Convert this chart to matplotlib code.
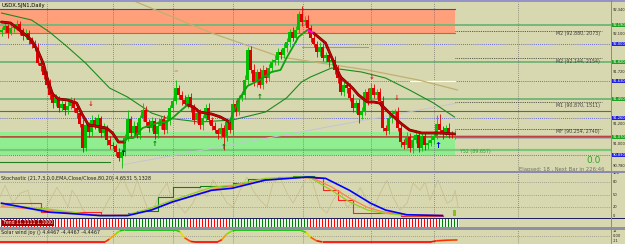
import matplotlib
matplotlib.use("Agg")
import matplotlib.pyplot as plt
import numpy as np
from matplotlib.patches import Rectangle
from matplotlib.collections import LineCollection
from matplotlib.colors import LinearSegmentedColormap

plt.rcParams['font.family'] = ['DejaVu Sans']

# ---------------- data ----------------
title = "USDX.SJN1,Daily"

closes = [
    92.14, 92.18, 92.11, 92.16, 92.17, 92.20, 92.14, 92.08, 92.11, 92.04,
    92.00, 91.96, 91.81, 91.78, 91.69, 91.59, 91.49, 91.41, 91.46, 91.36,
    91.40, 91.34, 91.38, 91.43, 91.36, 91.31, 91.20, 90.96, 91.19, 91.12,
    91.24, 91.18, 91.26, 91.11, 91.16, 91.04, 90.99, 90.98, 90.92, 90.86,
    90.92, 91.06, 91.25, 91.11, 91.18, 91.09, 91.26, 91.34, 91.22, 91.16,
    91.23, 91.10, 91.18, 91.25, 91.14, 91.24, 91.36, 91.43, 91.56, 91.49,
    91.44, 91.40, 91.47, 91.37, 91.24, 91.31, 91.19, 91.26, 91.36, 91.24,
    91.18, 91.14, 91.10, 91.16, 91.07, 91.22, 91.14, 91.40, 91.32, 91.46,
    91.49, 91.64, 91.94, 91.74, 91.62, 91.72, 91.59, 91.74, 91.66, 91.76,
    91.82, 91.84, 91.92, 91.89, 91.96, 92.02, 92.12, 92.06, 92.14, 92.30,
    92.22, 92.24, 92.16, 92.06, 92.00, 91.92, 91.97, 91.86, 91.89, 91.82,
    91.84, 91.74, 91.66, 91.52, 91.59, 91.56, 91.46, 91.36, 91.41, 91.29,
    91.32, 91.52, 91.44, 91.56, 91.49, 91.52, 91.43, 91.16, 91.13, 91.26,
    91.30, 91.32, 91.16, 91.02, 90.99, 91.07, 90.96, 91.04, 91.09, 90.96,
    91.08, 90.99, 91.01, 91.04, 91.08, 91.20, 91.14, 91.10, 91.16, 91.10,
    91.09, 91.10]

opens = [
    92.12, 92.14, 92.18, 92.11, 92.16, 92.17, 92.20, 92.14, 92.08, 92.11,
    92.04, 92.00, 91.96, 91.81, 91.78, 91.69, 91.59, 91.49, 91.41, 91.46,
    91.36, 91.40, 91.34, 91.38, 91.43, 91.36, 91.31, 91.20, 90.96, 91.19,
    91.12, 91.24, 91.18, 91.26, 91.11, 91.16, 91.04, 90.99, 90.98, 90.92,
    90.86, 90.92, 91.06, 91.25, 91.11, 91.18, 91.09, 91.26, 91.34, 91.22,
    91.16, 91.23, 91.10, 91.18, 91.25, 91.14, 91.24, 91.36, 91.43, 91.56,
    91.49, 91.44, 91.40, 91.47, 91.37, 91.24, 91.31, 91.19, 91.26, 91.36,
    91.24, 91.18, 91.14, 91.10, 91.16, 91.07, 91.22, 91.14, 91.40, 91.32,
    91.46, 91.49, 91.64, 91.94, 91.74, 91.62, 91.72, 91.59, 91.74, 91.66,
    91.76, 91.82, 91.84, 91.92, 91.89, 91.96, 92.02, 92.12, 92.06, 92.14,
    92.30, 92.22, 92.24, 92.16, 92.06, 92.00, 91.92, 91.97, 91.86, 91.89,
    91.82, 91.84, 91.74, 91.66, 91.52, 91.59, 91.56, 91.46, 91.36, 91.41,
    91.29, 91.32, 91.52, 91.44, 91.56, 91.49, 91.52, 91.43, 91.16, 91.13,
    91.26, 91.30, 91.32, 91.16, 91.02, 90.99, 91.07, 90.96, 91.04, 91.09,
    90.96, 91.08, 90.99, 91.01, 91.04, 91.08, 91.20, 91.14, 91.10, 91.16,
    91.10, 91.09]

up_wick = [
    .03, .04, .02, .05, .03, .04, .03, .02, .04, .03,
    .03, .04, .05, .02, .03, .04, .06, .03, .04, .02,
    .04, .03, .05, .04, .03, .02, .04, .05, .06, .03,
    .05, .03, .04, .02, .05, .03, .04, .03, .02, .04,
    .03, .04, .09, .03, .05, .04, .03, .07, .04, .03,
    .04, .03, .05, .03, .04, .05, .03, .04, .08, .03,
    .04, .05, .03, .04, .03, .05, .04, .03, .04, .05,
    .03, .04, .02, .05, .03, .04, .03, .05, .04, .03,
    .04, .05, .03, .04, .06, .03, .04, .05, .03, .04,
    .03, .05, .04, .03, .05, .04, .03, .05, .04, .03,
    .08, .04, .05, .03, .04, .03, .05, .04, .03, .04,
    .03, .04, .05, .03, .04, .03, .05, .04, .03, .04,
    .05, .03, .04, .05, .04, .03, .04, .05, .03, .04,
    .04, .03, .05, .04, .03, .05, .04, .03, .05, .04,
    .03, .04, .03, .05, .04, .09, .10, .04, .03, .05,
    .03, .04]

low_wick = [
    .04, .03, .05, .02, .04, .03, .05, .04, .03, .04,
    .04, .03, .02, .05, .04, .03, .04, .05, .03, .04,
    .03, .05, .04, .03, .04, .05, .03, .04, .03, .05,
    .04, .03, .05, .04, .03, .05, .04, .03, .04, .03,
    .10, .04, .03, .05, .04, .03, .04, .03, .05, .04,
    .03, .05, .04, .03, .04, .03, .05, .04, .03, .04,
    .05, .03, .04, .05, .04, .03, .04, .05, .03, .04,
    .04, .03, .05, .04, .13, .04, .03, .05, .04, .03,
    .03, .04, .05, .03, .04, .05, .03, .04, .05, .03,
    .04, .03, .05, .04, .03, .04, .05, .03, .04, .03,
    .04, .03, .05, .04, .03, .05, .04, .03, .04, .05,
    .03, .04, .05, .03, .04, .05, .03, .04, .05, .08,
    .04, .03, .05, .04, .03, .04, .05, .03, .04, .03,
    .05, .04, .03, .05, .04, .03, .04, .05, .03, .04,
    .03, .05, .04, .03, .04, .03, .04, .05, .03, .04,
    .03, .04]

# thick trend line (colour changes with direction)
trend_red1_x = [0, 3, 6, 8, 10, 12, 14, 15, 17, 19, 22, 25, 27, 29, 33, 35, 37, 39, 41]
trend_red1_y = [92.22, 92.21, 92.14, 92.09, 92.04, 91.94, 91.80, 91.68, 91.50, 91.45,
                91.44, 91.41, 91.29, 91.19, 91.17, 91.16, 91.11, 91.02, 91.02]
trend_grn1_x = [41, 42, 44, 47, 52, 55, 57, 60, 62]
trend_grn1_y = [91.02, 91.06, 91.06, 91.16, 91.21, 91.22, 91.26, 91.34, 91.39]
trend_red2_x = [62, 64, 66, 70, 73, 76]
trend_red2_y = [91.39, 91.37, 91.32, 91.30, 91.27, 91.22]
trend_grn2_x = [76, 79, 82, 86, 90, 93, 95, 99, 102]
trend_grn2_y = [91.22, 91.44, 91.58, 91.64, 91.72, 91.74, 91.86, 92.07, 92.14]
trend_mag_x = [102, 104]
trend_mag_y = [92.14, 92.11]
trend_red3_x = [104, 106, 108, 110, 113, 117, 119, 122, 124, 126, 129, 133, 136, 140, 146, 151]
trend_red3_y = [92.11, 92.06, 92.01, 91.87, 91.67, 91.56, 91.49, 91.42, 91.42, 91.41,
                91.32, 91.21, 91.14, 91.11, 91.11, 91.10]

# slow moving average (thin green)
slow_x = [0, 10, 16, 22, 28, 36, 42, 50, 55, 66, 77, 88, 95, 100, 103, 110, 120, 128, 136, 144, 151]
slow_y = [92.31, 92.24, 92.12, 91.97, 91.81, 91.56, 91.47, 91.31, 91.26, 91.22, 91.24,
          91.32, 91.46, 91.62, 91.67, 91.76, 91.72, 91.66, 91.54, 91.41, 91.27]

# long tan curve and grey diagonal
tan_x = [41, 53, 70, 93, 122, 139, 152]
tan_y = [92.47, 92.32, 92.11, 91.87, 91.74, 91.64, 91.54]
gray_x = [40, 152]
gray_y = [90.79, 91.41]

# zones and levels
res_zone = (92.11, 92.35)
sup_zone = (90.89, 91.12)
zone_end = 151
green_levels = [92.19, 91.82, 91.45]
olive_level = 91.33
mf_level = 91.07
low_green_level = 90.94
grid_prices = [92.00, 91.63, 91.26, 90.89]
grid_bars = [15, 37, 57, 77, 100.5, 123, 144, 172]
label_levels = [92.13, 91.86, 91.42, 91.15]
label_texts = ["M2 (92.880, 2073)", "M2 (92.144, 2154)", "M1 (90.870, 1511)", "MF (90.254, 2740)"]

# arrows
blue_up_x, blue_up_y = [40.5, 145.5], [90.91, 90.99]
green_up_x, green_up_y = [51.2, 74.2, 86.2], [91.00, 90.97, 91.47]
red_dn_x, red_dn_y = [29.8, 123.5, 131.8], [91.40, 91.67, 91.46]

# right-axis labels (main)
axis_plain = [92.34, 92.10, 91.72, 91.20, 91.00, 90.78]
axis_blue = [92.00, 91.63, 91.26, 90.89]
axis_green = [92.19, 91.82, 91.45, 91.07]

# stochastic panel
stoch_blue_x = [0, 16, 33, 42, 50, 57, 70, 77, 88, 102, 108, 116, 123, 128, 135, 147]
stoch_blue_y = [30, 9, 1, 1, 14, 33, 60, 65, 84, 91, 88, 60, 30, 14, 3, 1]
stoch_grn_x = [0, 16, 33, 42, 50, 57, 70, 77, 88, 100, 103, 110, 116, 122, 127, 135, 147]
stoch_grn_y = [26, 16, 0, 2, 19, 37, 67, 72, 88, 91, 89, 60, 33, 14, 7, 1, 1]
stoch_org_x = [0, 16, 33, 42, 50, 57, 70, 77, 88, 100, 104, 110, 116, 122, 127, 135, 147]
stoch_org_y = [22, 13, 2, 3, 15, 32, 62, 70, 84, 90, 88, 68, 42, 20, 10, 3, 2]
osc_x = [-0.5, 1.2, 3.8, 6.2, 8.8, 10.5, 13.5, 16.2, 18.5, 20.5, 22.2, 23.5, 25.2, 27.2, 29.5,
         32.8, 36.2, 38.5, 40.5, 41.8, 43.5, 45.2, 46.8, 48.5, 50.5, 52.8, 55.2, 56.2, 58.5,
         61.2, 63.8, 66.2, 68.5, 70.5, 72.8, 75.2, 77.2, 79.5, 81.8, 83.8, 86.2, 88.5, 90.5,
         92.8, 95.2, 97.2, 99.5, 101.8, 103.8, 106.2, 108.5, 110.5, 112.8, 115.2, 117.2, 119.5,
         121.8, 123.8, 126.2, 128.5, 130.5, 132.8, 135.2, 137.2, 139.5, 141.2, 142.8, 145.5,
         147.2, 148.5, 150.2, 151.2, 152.2]
osc_y = [45, 72, 30, 53, 60, 14, 7, 37, 67, 44, 21, 60, 44, 14, 2, 0, 44, 67, 91, 67, 44, 84,
         53, 21, 14, 53, 77, 53, 30, 7, 30, 67, 45, 84, 60, 30, 21, 60, 91, 60, 37, 21, 77, 91,
         53, 30, 60, 91, 77, 21, 7, 37, 60, 21, 30, 67, 37, 14, 53, 84, 44, 14, 30, 77, 60, 79,
         37, 84, 53, 30, 37, 60, 21]
step_red1_x, step_red1_y = [0, 4, 13, 33], [30, 30, 10, 3]
step_grn_x = [33, 42, 45, 52, 57, 66, 77, 82, 92, 97, 104]
step_grn_y = [3, 8, 12, 45, 67, 70, 76, 86, 90, 93, 93]
step_red2_x = [104, 107, 112, 117, 133, 147]
step_red2_y = [88, 60, 37, 7, 1, 1]
last_hist_bar, last_hist_val = 151, 14
stoch_levels = [80, 50, 20]

# trend histogram runs
hist_starts = [0, 42, 63, 76, 103, 146]
hist_ends = [42, 63, 76, 103, 146, 153]
hist_up = [False, True, False, True, False, True]

# Solar wind joy line
joy_x = [-0.5, 34.5, 36, 38, 39.5, 41, 58, 59.5, 61, 63, 64.5, 72, 73.5, 75, 77, 78.5,
         99.5, 101.5, 103, 105, 107, 143, 145, 148.5, 152]
joy_y = [-1, -1, -0.5, 0.3, 0.9, 1, 1, 0.7, -0.3, -0.9, -1, -1, -0.6, 0.3, 0.9, 1,
         1, 0.6, -0.2, -0.8, -1, -1, -0.8, -0.7, -0.65]

# ---------------- figure ----------------
W, H = 625, 244
BG = '#d8d8b0'
fig = plt.figure(figsize=(W / 100, H / 100), dpi=100)
fig.patch.set_facecolor(BG)


def add_ax(x0, y0, x1, y1):
    a = fig.add_axes([x0 / W, 1 - y1 / H, (x1 - x0) / W, (y1 - y0) / H])
    a.set_facecolor(BG)
    for s in a.spines.values():
        s.set_visible(False)
    a.set_xticks([])
    a.set_yticks([])
    a.set_xlim(-0.5, (611 - 1.5) / 3.0)
    return a


def rlabel(a, val, txt, fc=None, color='#202020'):
    kw = {}
    if fc is not None:
        kw['bbox'] = dict(boxstyle='square,pad=0.1', fc=fc, ec='none')
        color = 'white'
    a.text(1.003, val, txt, transform=a.get_yaxis_transform(), fontsize=2.6,
           va='center', ha='left', color=color, clip_on=False, **kw)


# ---- main price panel ----
ax = add_ax(0, 1.5, 611, 171)
ax.set_ylim(90.73, 92.425)

ax.add_patch(Rectangle((-0.5, res_zone[0]), zone_end + 0.5, res_zone[1] - res_zone[0],
                       fc='#ffa07a', ec='none', zorder=1))
ax.plot([-0.5, zone_end], [res_zone[1]] * 2, color='#4040d0', lw=0.8, zorder=2)
ax.plot([-0.5, zone_end], [res_zone[0]] * 2, color='#e06010', lw=0.8, zorder=2)
ax.add_patch(Rectangle((-0.5, sup_zone[0]), zone_end + 0.5, sup_zone[1] - sup_zone[0],
                       fc='#90ee90', ec='none', zorder=1))

for lv in green_levels:
    ax.axhline(lv, color='#78b878', lw=1.4, zorder=2)
ax.axhline(olive_level, color='#6a6a40', lw=0.8, zorder=2)
ax.axhline(low_green_level, color='#78c878', lw=1.6, zorder=2)
ax.plot([zone_end + 1, 210], [mf_level] * 2, color='#a8a8a8', lw=2.6, zorder=2)
ax.axhline(mf_level + 0.006, color='#c03030', lw=0.6, zorder=3)
ax.axhline(mf_level - 0.004, color='#30a030', lw=0.6, zorder=3)
ax.plot([-0.5, 36], [90.82, 90.82], color='#208020', lw=0.8, zorder=2)
ax.plot([100, 122], [91.97, 91.97], color='#9a9a9a', lw=0.8, zorder=2)
ax.plot([136, 151], [91.63, 91.63], color='white', lw=0.8, zorder=3)

for gp in grid_prices:
    ax.axhline(gp, color='#4848e0', lw=0.6, ls=(0, (1, 1.5)), zorder=2)
for gb in grid_bars:
    ax.axvline(gb, color='#505050', lw=0.5, ls=(0, (1, 2)), zorder=2)

for lv, tx in zip(label_levels, label_texts):
    ax.plot([zone_end, 200], [lv, lv], color='#303030', lw=0.6, ls=(0, (1, 1.2)), zorder=3)
    ax.text(199.5, lv - 0.005, tx, fontsize=3.4, color='#404040', ha='right', va='top', zorder=4)

ax.plot(tan_x, tan_y, color='#c0b070', lw=0.9, zorder=3)
ax.plot(gray_x, gray_y, color='#c4c4d4', lw=0.7, zorder=3)
ax.plot(slow_x, slow_y, color='#1e8a1e', lw=0.8, zorder=3)

# candles
o = np.array(opens)
c = np.array(closes)
idx = np.arange(len(c))
hi = np.maximum(o, c) + np.array(up_wick)
lo = np.minimum(o, c) - np.array(low_wick)
col = np.where(c >= o, '#00c000', '#e00000')
ax.vlines(idx, lo, hi, colors=col, lw=0.6, zorder=4)
ax.bar(idx, np.maximum(np.abs(c - o), 0.008), bottom=np.minimum(o, c), width=0.7,
       color=col, lw=0, zorder=5)

# trend line
for xs, ys, cl in [(trend_red1_x, trend_red1_y, '#c80000'), (trend_grn1_x, trend_grn1_y, '#10a010'),
                   (trend_red2_x, trend_red2_y, '#c80000'), (trend_grn2_x, trend_grn2_y, '#10a010'),
                   (trend_mag_x, trend_mag_y, '#ff00ff'), (trend_red3_x, trend_red3_y, '#c80000')]:
    if cl == '#c80000':
        ax.plot(xs, ys, color='#600000', lw=2.0, zorder=6, solid_capstyle='round')
    ax.plot(xs, ys, color=cl, lw=1.3, zorder=7, solid_capstyle='round')

for x, y in zip(blue_up_x, blue_up_y):
    ax.text(x, y, '↑', color='#0000ff', fontsize=6, fontweight='bold', ha='center', va='center', zorder=8)
for x, y in zip(green_up_x, green_up_y):
    ax.text(x, y, '↑', color='#008000', fontsize=5, fontweight='bold', ha='center', va='center', zorder=8)
for x, y in zip(red_dn_x, red_dn_y):
    ax.text(x, y, '↓', color='#e02020', fontsize=5, fontweight='bold', ha='center', va='center', zorder=8)
ax.text(58, 91.72, '=', color='#d08040', fontsize=4, ha='center', va='center', zorder=8)

ax.text(153, 90.92, "Y52 (89.657)", fontsize=3.4, color='#30a030', ha='left', va='center', zorder=8)
ax.text(197.5, 90.835, "0.0", fontsize=6.5, color='#28a828', ha='center', va='center', zorder=8)
ax.text(201, 90.75, "Elapsed: 18 , Next Bar in 226:46", fontsize=3.8, color='#707070',
        ha='right', va='center', zorder=8)

for v in axis_plain:
    rlabel(ax, v, f"{v:.3f}")
for v in axis_blue:
    rlabel(ax, v, f"{v:.3f}", fc='#2020e0')
for v in axis_green:
    rlabel(ax, v, f"{v:.3f}", fc='#20a020')

fig.text(2 / W, 1 - 6 / H, title, fontsize=3.8, color='black', va='center', ha='left')

# ---- stochastic panel ----
st = add_ax(0, 173, 611, 218)
st.set_ylim(-4.65, 100.5)
for lv in stoch_levels:
    st.axhline(lv, color='#707070', lw=0.5, ls=(0, (1, 2)))
for gb in grid_bars:
    st.axvline(gb, color='#505050', lw=0.5, ls=(0, (1, 2)))
st.plot(osc_x, osc_y, color='#c8c090', lw=0.6, zorder=2)
st.plot(step_red1_x, step_red1_y, color='#ff2020', lw=0.8, drawstyle='steps-post', zorder=3)
st.plot(step_grn_x, step_grn_y, color='#108010', lw=0.8, drawstyle='steps-post', zorder=3)
st.plot(step_red2_x, step_red2_y, color='#ff2020', lw=0.8, drawstyle='steps-post', zorder=3)
st.plot(stoch_org_x, stoch_org_y, color='#ff8050', lw=0.9, zorder=4)
st.plot(stoch_grn_x, stoch_grn_y, color='#90d020', lw=0.9, zorder=4)
st.plot(stoch_blue_x, stoch_blue_y, color='#0000ff', lw=1.2, zorder=5)
st.bar([last_hist_bar], [last_hist_val], width=1.0, color='#80c020', zorder=5)
st.text(0.002, 0.88, "Stochastic (21,7,3,0,0,EMA,Close/Close,80,20) 4.6531 5.1328",
        transform=st.transAxes, fontsize=3.5, color='#202020', va='center', ha='left')
for v in [100, 80, 50, 20, 0]:
    rlabel(st, v, str(v))

# ---- trend histogram panel ----
hs = add_ax(0, 219, 611, 227)
hs.set_ylim(0, 1)
for s0, s1, up in zip(hist_starts, hist_ends, hist_up):
    bars = np.arange(s0, s1)
    hs.bar(bars, [1] * len(bars), width=1.0, color='#e8f8e8' if up else '#fff0f0', lw=0)
    hs.bar(bars, [1] * len(bars), width=0.55, color='#008000' if up else '#ff0000', lw=0)
hs.text(0.004, 0.5, "Trend 11.1111 1.1000", transform=hs.transAxes, fontsize=3.3,
        color='white', va='center', ha='left',
        bbox=dict(boxstyle='square,pad=0.1', fc='#a00000', ec='none'))

# ---- Solar wind joy panel ----
jw = add_ax(0, 229.5, 611, 244)
jw.set_ylim(-1.333, 1.083)
jw.axhline(0, color='#707070', lw=0.5, ls=(0, (1, 2)))
for gb in grid_bars:
    jw.axvline(gb, color='#505050', lw=0.5, ls=(0, (1, 2)))
cmap = LinearSegmentedColormap.from_list('joy', [(0, '#ff0000'), (0.35, '#ff8000'),
                                                 (0.6, '#e0e000'), (0.8, '#80e000'), (1, '#00c000')])
pts = np.column_stack([joy_x, joy_y])
segs = np.stack([pts[:-1], pts[1:]], axis=1)
mids = (np.array(joy_y[:-1]) + np.array(joy_y[1:])) / 2
lc = LineCollection(segs, colors=cmap((mids + 1) / 2), lw=1.2)
jw.add_collection(lc)
jw.text(0.002, 0.8, "Solar wind joy () 4.4467 -4.4467 -4.4467", transform=jw.transAxes,
        fontsize=3.5, color='#202020', va='center', ha='left')
for v, t in [(0.75, "11"), (0, "0.00"), (-0.9, "-11")]:
    rlabel(jw, v, t)

# ---- borders / separators ----
def band(y0, y1, color, x0=0, x1=W):
    fig.add_artist(Rectangle((x0 / W, 1 - y1 / H), (x1 - x0) / W, (y1 - y0) / H,
                             transform=fig.transFigure, fc=color, ec='none', zorder=20))

band(0, 1.5, '#9494c8')
band(171, 173, '#8a8ab0')
band(218, 219, '#202060')
band(227, 229.5, '#9090a4')
band(0, 244, '#8888a8', x0=611, x1=612)

fig.savefig('out.png', dpi=100, facecolor=BG)
